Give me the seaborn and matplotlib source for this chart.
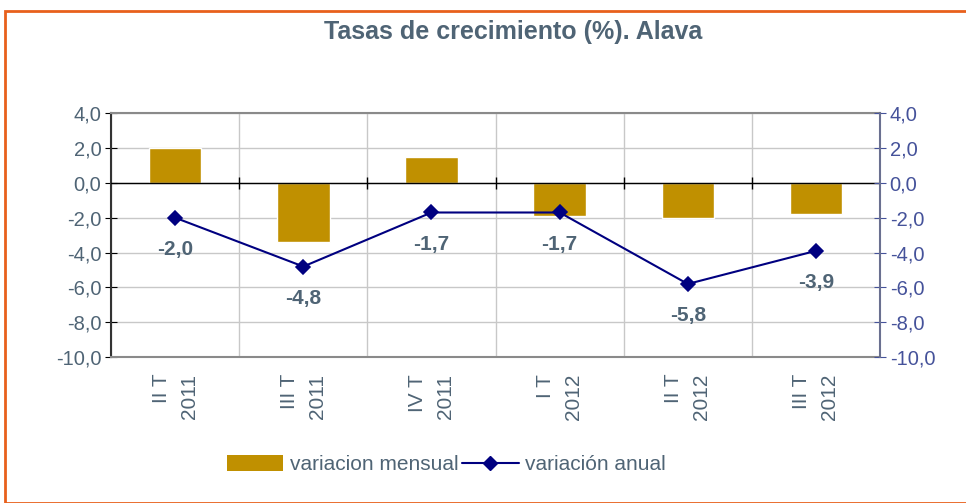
import numpy as np
import matplotlib
matplotlib.use('Agg')
import matplotlib.pyplot as plt
import seaborn as sns
from matplotlib.patches import Patch, Rectangle
from matplotlib.lines import Line2D
from matplotlib.ticker import FuncFormatter

# data
quarters = ['II T\n2011', 'III T\n2011', 'IV T\n2011', 'I T\n2012', 'II T\n2012', 'III T\n2012']
mensual = [2.0, -3.4, 1.5, -1.9, -2.0, -1.8]
anual = [-2.0, -4.8, -1.7, -1.7, -5.8, -3.9]
y_ticks = [4, 2, 0, -2, -4, -6, -8, -10]

gold = '#C09000'
navy = '#000080'
slate = '#4F6475'
blue_axis = '#45529A'
orange = '#E8601C'

sns.set_style('white')
plt.rcParams['font.family'] = ['Liberation Sans', 'DejaVu Sans']

fig = plt.figure(figsize=(9.66, 5.03), dpi=100)
ax = fig.add_axes([0.115, 0.29, 0.796, 0.485])

sns.barplot(x=list(range(6)), y=mensual, color=gold, saturation=1, width=0.41,
            ax=ax, zorder=3)
sns.pointplot(x=list(range(6)), y=anual, color=navy, markers='D', linestyles='-',
              ax=ax, markersize=7, linewidth=1.5, zorder=5)

for i, v in enumerate(anual):
    ax.annotate(f"{v:.1f}".replace('.', ','), (i, v), xytext=(0, -23),
                textcoords='offset points', ha='center', va='center',
                fontsize=15, fontweight='bold', color=slate, zorder=6)

fmt = FuncFormatter(lambda v, p: f"{v:.1f}".replace('.', ','))
ax.set_ylim(-10, 4)
ax.set_xlim(-0.5, 5.5)
ax.set_yticks(y_ticks)
ax.yaxis.set_major_formatter(fmt)
ax.set_xticks(range(6))
ax.set_xticklabels(quarters, rotation=90, va='top', ha='center',
                   multialignment='right', fontsize=15, color=slate,
                   linespacing=1.6)
ax.set_xticks(np.arange(-0.5, 6, 1), minor=True)
ax.tick_params(axis='x', which='both', length=0, pad=12)
ax.tick_params(axis='y', direction='inout', length=8, color='black',
               labelsize=14.5, labelcolor=slate, pad=3)
ax.grid(True, axis='y', color='#C8C8C8', lw=1, zorder=0)
ax.grid(True, axis='x', which='minor', color='#C8C8C8', lw=1, zorder=0)
ax.grid(False, axis='x', which='major')
ax.set_axisbelow(True)

ax.axhline(0, color='black', lw=1, zorder=4)
ax.vlines(np.arange(0.5, 5, 1), -0.34, 0.34, color='black', lw=1, zorder=4)

for side in ['top', 'bottom']:
    ax.spines[side].set_color('#8A8A8A')
    ax.spines[side].set_linewidth(1.5)
ax.spines['left'].set_color('#333333')
ax.spines['left'].set_linewidth(1.5)
ax.spines['right'].set_visible(False)
ax.set_xlabel('')
ax.set_ylabel('')

ax2 = ax.twinx()
ax2.set_ylim(-10, 4)
ax2.set_yticks(y_ticks)
ax2.yaxis.set_major_formatter(fmt)
ax2.tick_params(axis='y', direction='inout', length=8, color=blue_axis,
                labelsize=14.5, labelcolor=blue_axis, pad=3)
for side in ['top', 'bottom', 'left']:
    ax2.spines[side].set_visible(False)
ax2.spines['right'].set_color('#6A7090')
ax2.spines['right'].set_linewidth(1.5)
ax2.grid(False)

fig.text(0.531, 0.936, 'Tasas de crecimiento (%). Alava', ha='center', va='center',
         fontsize=18, fontweight='bold', color=slate)

handles = [Patch(facecolor=gold, edgecolor='none'),
           Line2D([], [], color=navy, marker='D', markersize=7, lw=1.5)]
fig.legend(handles, ['variacion mensual', 'variación anual'], loc='center',
           bbox_to_anchor=(0.462, 0.076), ncol=2, frameon=False, fontsize=15,
           labelcolor=slate, handlelength=2.7, handleheight=0.8,
           handletextpad=0.3, columnspacing=0.2)

fig.patches.append(Rectangle((0.005, 0.0), 1.2, 0.978, transform=fig.transFigure,
                             fill=False, edgecolor=orange, lw=2, zorder=10))

fig.savefig('out.png', dpi=100)
